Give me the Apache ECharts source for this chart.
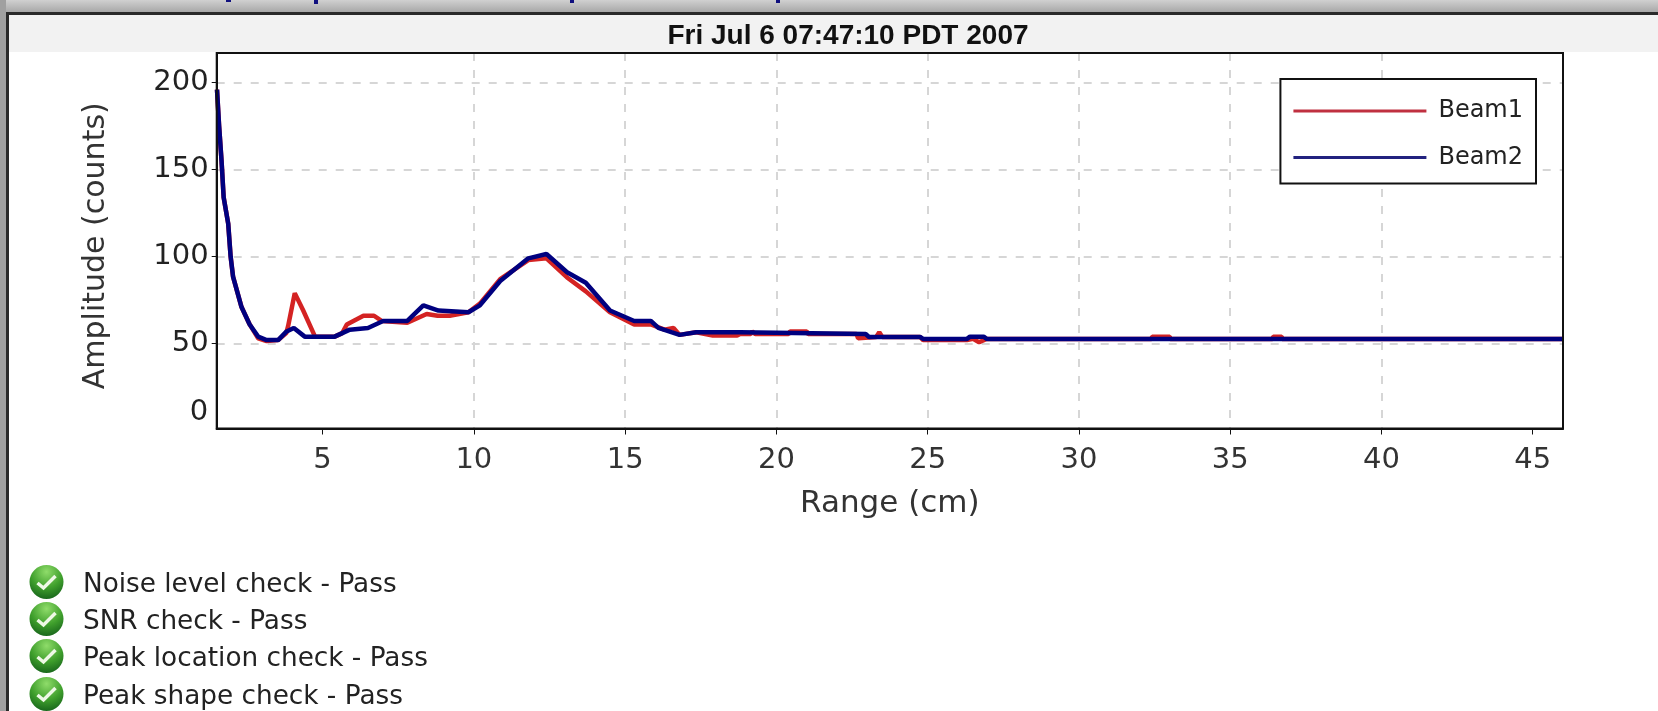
<!DOCTYPE html>
<html><head><meta charset="utf-8">
<style>html,body{margin:0;padding:0;background:#fff;overflow:hidden}#c{width:1658px;height:711px}</style>
<script src="https://cdn.jsdelivr.net/npm/echarts@6/dist/echarts.min.js"></script>
</head><body><div id="c"></div>
<script>
const chartTitle = "Fri Jul 6 07:47:10 PDT 2007";
const xName = "Range (cm)";
const yName = "Amplitude (counts)";
const checks = ["Noise level check - Pass","SNR check - Pass","Peak location check - Pass","Peak shape check - Pass"];
const beam1 = [[1.51,196],[1.58,175],[1.66,155],[1.73,134],[1.88,119],[1.96,100],[2.04,88.5],[2.32,71],[2.59,61],[2.87,53],[3.15,51.5],[3.53,52],[3.8,56],[3.86,60],[4.08,79],[4.36,69],[4.75,54],[5.4,54],[5.65,56],[5.8,61],[6.35,66],[6.7,66],[6.95,63],[7.8,62],[8.44,67],[8.8,66],[9.2,66],[9.82,68],[10.2,73],[10.87,87],[11.8,98],[12.4,99],[13.08,88],[13.7,80],[14.5,68],[15.3,61],[15.85,61],[16.3,58],[16.6,59],[16.8,55],[17.35,56.5],[17.9,54.6],[18.7,54.6],[18.8,55.5],[19.15,55.5],[19.2,57],[19.3,55.5],[20.4,55.5],[20.45,57],[21,57],[21.05,55.5],[22.65,55.5],[22.7,53],[23.3,53.8],[23.4,56.5],[23.5,53.8],[24.75,53.8],[24.85,52],[26.3,52],[26.5,52.7],[26.7,50.8],[26.95,52.7],[32.4,52.7],[32.42,54],[33,54],[33.02,52.7],[36.4,52.7],[36.42,54],[36.7,54],[36.72,52.7],[46,52.7]];
const beam2 = [[1.51,196],[1.58,175],[1.66,155],[1.73,134],[1.88,119],[1.96,100],[2.04,88.5],[2.32,71],[2.59,61],[2.87,54],[3.15,52],[3.53,52],[3.81,57],[4.05,59],[4.41,54],[5.4,54],[5.9,58],[6.5,59],[7,63],[7.8,63],[8.33,72],[8.83,69],[9.82,68],[10.2,72],[10.87,86],[11.8,99],[12.4,101.5],[13.08,91],[13.7,85],[14.5,69],[15.3,63],[15.85,63],[16.1,59],[16.8,55],[17.35,56.5],[18.8,56.5],[18.85,55.5],[22.95,55.5],[23.06,53.8],[24.75,53.8],[24.85,52.7],[26.3,52.7],[26.4,54],[26.85,54],[26.95,52.7],[46,52.7]];
const xTicks = [5,10,15,20,25,30,35,40,45];
const yTicks = [50,100,150,200];

const font = '"DejaVu Sans"';
const L=216.7,R=1563,T=53,B=428.5;
const chart = echarts.init(document.getElementById('c'),null,{renderer:'canvas'});
function iconGraphic(cy){
  const cx=46.5;
  return [{type:'circle',shape:{cx,cy,r:17},style:{fill:new echarts.graphic.RadialGradient(0.5,0.2,0.85,[{offset:0,color:'#8fdc6a'},{offset:0.55,color:'#3f9f2c'},{offset:1,color:'#14601a'}])}},
    {type:'polyline',shape:{points:[[cx-9,cy+1],[cx-3,cy+6],[cx+9,cy-6]]},style:{stroke:'#eef8e6',lineWidth:3.5,fill:null}}];
}
const ys=[582,619,656,694];
const gfx=[
 {type:'rect',shape:{x:0,y:0,width:1658,height:12},style:{fill:new echarts.graphic.LinearGradient(0,0,0,1,[{offset:0,color:'#d0d0d0'},{offset:1,color:'#a8a8a8'}])},z:-5},
 {type:'rect',shape:{x:0,y:12,width:1658,height:3},style:{fill:'#2a2a2a'},z:-4},
 {type:'rect',shape:{x:0,y:15,width:1658,height:37},style:{fill:'#f2f2f2'},z:-5},
 {type:'rect',shape:{x:0,y:0,width:6,height:711},style:{fill:'#a0a0a0'},z:-3},
 {type:'rect',shape:{x:6,y:12,width:3,height:699},style:{fill:'#2a2a2a'},z:-2},
 {type:'rect',shape:{x:226,y:0,width:5,height:2},style:{fill:'#10107f'}},
 {type:'rect',shape:{x:314,y:0,width:4,height:4},style:{fill:'#10107f'}},
 {type:'rect',shape:{x:570,y:0,width:4,height:3},style:{fill:'#10107f'}},
 {type:'rect',shape:{x:776,y:0,width:4,height:3},style:{fill:'#10107f'}},
 {type:'rect',shape:{x:L,y:T,width:R-L,height:B-T},style:{fill:null,stroke:'#111',lineWidth:2},z:5},
 {type:'text',style:{text:'0',x:199,y:412,align:'center',verticalAlign:'middle',font:'29px '+font,fill:'#222'}}
];
ys.forEach((y,i)=>{gfx.push(...iconGraphic(y));gfx.push({type:'text',style:{text:checks[i],x:83,y:y+3,verticalAlign:'middle',font:'26.3px '+font,fill:'#222'}});});
chart.setOption({
 animation:false,backgroundColor:'#fff',
 title:{text:chartTitle,left:843,top:31,textAlign:'center',textVerticalAlign:'middle',textStyle:{fontFamily:'"Liberation Sans"',fontWeight:'bold',fontSize:28,color:'#111'}},
 legend:{right:1658-1536,top:79,orient:'vertical',itemWidth:133,itemHeight:3,itemGap:22.5,padding:[20,13,14,13],backgroundColor:'#fff',borderColor:'#111',borderWidth:2,borderRadius:0,
   textStyle:{fontFamily:font,fontSize:24,color:'#222',padding:[0,0,0,7]},icon:'rect',data:['Beam1','Beam2'],z:10},
 grid:{left:L,right:1658-R,top:T,bottom:711-B},
 xAxis:{type:'value',min:1.5,max:46,name:xName,nameLocation:'middle',nameGap:60,nameTextStyle:{fontFamily:font,fontSize:31,color:'#333'},
   axisLine:{onZero:false,lineStyle:{color:'#111',width:2}},axisTick:{show:true,length:6,lineStyle:{color:'#111'},customValues:xTicks},
   axisLabel:{customValues:xTicks,fontFamily:font,fontSize:29,color:'#333',margin:17,showMinLabel:true,showMaxLabel:true},
   splitLine:{show:true,showMinLine:false,showMaxLine:false,lineStyle:{type:[8,9],color:'#d6d6d6',width:2}}, interval:5},
 yAxis:{type:'value',min:1.2,max:217,name:yName,nameLocation:'middle',nameGap:105,nameTextStyle:{fontFamily:font,fontSize:30,color:'#333',padding:[0,10,0,0]},
   axisLine:{lineStyle:{color:'#111',width:2}},axisTick:{show:true,length:5,lineStyle:{color:'#111'},customValues:yTicks},
   axisLabel:{customValues:yTicks,fontFamily:font,fontSize:29,color:'#222',margin:8},
   splitLine:{show:true,lineStyle:{type:[8,9],color:'#d6d6d6',width:2}}},
 series:[
  {name:'Beam1',type:'line',data:beam1,showSymbol:false,smooth:false,lineStyle:{color:'#d42323',width:4.5},itemStyle:{color:'#c03040'},clip:true,z:3},
  {name:'Beam2',type:'line',data:beam2,showSymbol:false,smooth:false,lineStyle:{color:'#00007f',width:4.5},itemStyle:{color:'#22227f'},clip:true,z:4}
 ],
 graphic:{elements:gfx}
});
</script></body></html>
